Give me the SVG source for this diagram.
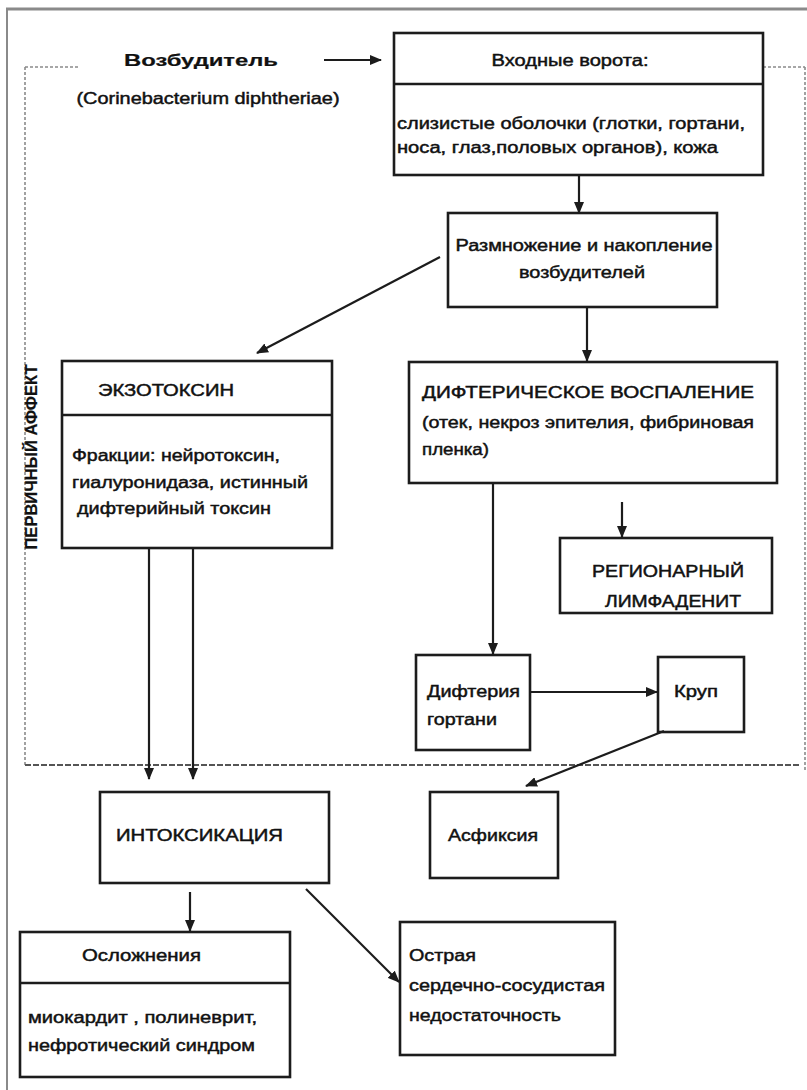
<svg xmlns="http://www.w3.org/2000/svg" width="807" height="1090" viewBox="0 0 807 1090">
<style>
.box{fill:none;stroke:#1c1c1c;stroke-width:2.6}
.div{stroke:#1c1c1c;stroke-width:2.4}
.t{font-family:"Liberation Sans",Arial,sans-serif;font-size:16px;fill:#111;stroke:#111;stroke-width:0.45}
.b{font-weight:bold;stroke-width:0.2}
.tc{text-anchor:middle}
.con{stroke:#1c1c1c;stroke-width:2.2;fill:none}
.dash{stroke:#8a8a8a;stroke-width:1.6;fill:none;stroke-dasharray:3 2}
</style>
<defs>
<marker id="ah" markerUnits="userSpaceOnUse" markerWidth="12" markerHeight="10" refX="11" refY="5" orient="auto">
<path d="M0,0 L12,5 L0,10 z" fill="#1c1c1c"/>
</marker>
</defs>
<rect width="807" height="1090" fill="#fff"/>
<g id="frame">
<line x1="6" y1="9" x2="807" y2="9" stroke="#8a8a8a" stroke-width="3"/>
<line x1="7" y1="9" x2="7" y2="1090" stroke="#8a8a8a" stroke-width="2"/>
</g>
<g id="zone">
<line class="dash" x1="25" y1="67" x2="80" y2="67"/>
<line class="dash" x1="763" y1="67" x2="805" y2="67"/>
<line class="dash" x1="25" y1="67" x2="25" y2="765"/>
<line class="dash" x1="805" y1="67" x2="805" y2="770"/>
<line x1="25" y1="765" x2="800" y2="765" stroke="#555" stroke-width="2" stroke-dasharray="6 2"/>
<text class="t b" transform="translate(37,457) rotate(-90)" text-anchor="middle" font-size="14" textLength="185" lengthAdjust="spacingAndGlyphs">ПЕРВИЧНЫЙ АФФЕКТ</text>
</g>
<g id="pathogen">
<text class="t b tc" x="201" y="66" textLength="154" lengthAdjust="spacingAndGlyphs">Возбудитель</text>
<text class="t tc" x="208" y="104" textLength="263" lengthAdjust="spacingAndGlyphs">(Corinebacterium diphtheriae)</text>
</g>
<g id="gate">
<rect class="box" x="394" y="33" width="369" height="142"/>
<line class="div" x1="394" y1="84" x2="763" y2="84"/>
<text class="t tc" x="570" y="66" textLength="157" lengthAdjust="spacingAndGlyphs">Входные ворота:</text>
<text class="t" x="397" y="129" textLength="348" lengthAdjust="spacingAndGlyphs">слизистые оболочки (глотки, гортани,</text>
<text class="t" x="397" y="153" textLength="321" lengthAdjust="spacingAndGlyphs">носа, глаз,половых органов), кожа</text>
</g>
<g id="reproduction">
<rect class="box" x="448" y="213" width="269" height="94"/>
<text class="t tc" x="584" y="251" textLength="257" lengthAdjust="spacingAndGlyphs">Размножение и накопление</text>
<text class="t tc" x="582" y="278" textLength="126" lengthAdjust="spacingAndGlyphs">возбудителей</text>
</g>
<g id="exotoxin">
<rect class="box" x="62" y="361" width="270" height="187"/>
<line class="div" x1="62" y1="415" x2="332" y2="415"/>
<text class="t" x="98" y="396" textLength="136" lengthAdjust="spacingAndGlyphs">ЭКЗОТОКСИН</text>
<text class="t" x="72" y="461" textLength="208" lengthAdjust="spacingAndGlyphs">Фракции: нейротоксин,</text>
<text class="t" x="72" y="488" textLength="236" lengthAdjust="spacingAndGlyphs">гиалуронидаза, истинный</text>
<text class="t" x="77" y="514" textLength="194" lengthAdjust="spacingAndGlyphs">дифтерийный токсин</text>
</g>
<g id="inflammation">
<rect class="box" x="409" y="362" width="368" height="121"/>
<text class="t" x="422" y="398" textLength="332" lengthAdjust="spacingAndGlyphs">ДИФТЕРИЧЕСКОЕ  ВОСПАЛЕНИЕ</text>
<text class="t" x="422" y="428" textLength="332" lengthAdjust="spacingAndGlyphs">(отек, некроз эпителия, фибриновая</text>
<text class="t" x="422" y="455" textLength="67" lengthAdjust="spacingAndGlyphs">пленка)</text>
</g>
<g id="lymphadenitis">
<rect class="box" x="560" y="538" width="212" height="75"/>
<text class="t tc" x="668" y="577" textLength="152" lengthAdjust="spacingAndGlyphs">РЕГИОНАРНЫЙ</text>
<text class="t tc" x="673" y="607" textLength="136" lengthAdjust="spacingAndGlyphs">ЛИМФАДЕНИТ</text>
</g>
<g id="larynx">
<rect class="box" x="416" y="655" width="114" height="95"/>
<text class="t" x="427" y="697" textLength="93" lengthAdjust="spacingAndGlyphs">Дифтерия</text>
<text class="t" x="427" y="725" textLength="70" lengthAdjust="spacingAndGlyphs">гортани</text>
</g>
<g id="croup">
<rect class="box" x="658" y="657" width="86" height="75"/>
<text class="t" x="674" y="697" textLength="44" lengthAdjust="spacingAndGlyphs">Круп</text>
</g>
<g id="intoxication">
<rect class="box" x="100" y="792" width="229" height="91"/>
<text class="t" x="116" y="841" textLength="167" lengthAdjust="spacingAndGlyphs">ИНТОКСИКАЦИЯ</text>
</g>
<g id="asphyxia">
<rect class="box" x="430" y="792" width="128" height="86"/>
<text class="t" x="448" y="841" textLength="90" lengthAdjust="spacingAndGlyphs">Асфиксия</text>
</g>
<g id="complications">
<rect class="box" x="20" y="932" width="270" height="145"/>
<line class="div" x1="20" y1="983" x2="290" y2="983"/>
<text class="t" x="82" y="961" textLength="119" lengthAdjust="spacingAndGlyphs">Осложнения</text>
<text class="t" x="28" y="1023" textLength="229" lengthAdjust="spacingAndGlyphs">миокардит , полиневрит,</text>
<text class="t" x="28" y="1051" textLength="227" lengthAdjust="spacingAndGlyphs">нефротический синдром</text>
</g>
<g id="heart">
<rect class="box" x="400" y="922" width="215" height="133"/>
<text class="t" x="409" y="961" textLength="67" lengthAdjust="spacingAndGlyphs">Острая</text>
<text class="t" x="409" y="991" textLength="196" lengthAdjust="spacingAndGlyphs">сердечно-сосудистая</text>
<text class="t" x="409" y="1021" textLength="152" lengthAdjust="spacingAndGlyphs">недостаточность</text>
</g>
<g id="connectors">
<line class="con" x1="324" y1="60" x2="381" y2="60" marker-end="url(#ah)"/>
<line class="con" x1="579" y1="175" x2="579" y2="213" marker-end="url(#ah)"/>
<line class="con" x1="440" y1="257" x2="257" y2="353" marker-end="url(#ah)"/>
<line class="con" x1="587" y1="307" x2="587" y2="361" marker-end="url(#ah)"/>
<line class="con" x1="493" y1="483" x2="493" y2="654" marker-end="url(#ah)"/>
<line class="con" x1="622" y1="502" x2="622" y2="537" marker-end="url(#ah)"/>
<line class="con" x1="530" y1="692" x2="657" y2="692" marker-end="url(#ah)"/>
<line class="con" x1="664" y1="731" x2="526" y2="786" marker-end="url(#ah)"/>
<line class="con" x1="149" y1="548" x2="149" y2="779" marker-end="url(#ah)"/>
<line class="con" x1="193" y1="548" x2="193" y2="779" marker-end="url(#ah)"/>
<line class="con" x1="190" y1="892" x2="190" y2="931" marker-end="url(#ah)"/>
<line class="con" x1="306" y1="889" x2="399" y2="982" marker-end="url(#ah)"/>
</g>
</svg>
